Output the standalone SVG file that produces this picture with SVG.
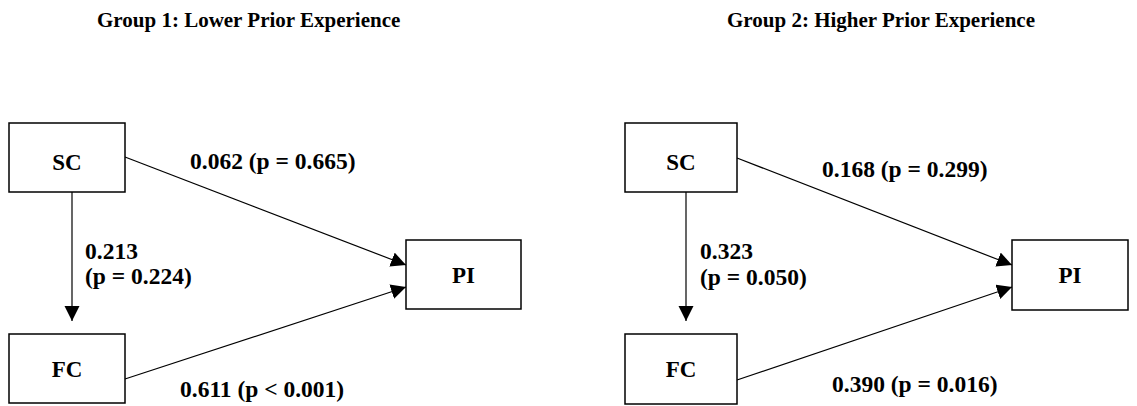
<svg xmlns="http://www.w3.org/2000/svg" width="1137" height="406" viewBox="0 0 1137 406">
  <style>
    text { font-family: "Liberation Serif", "Times New Roman", serif; font-weight: bold; fill: #000; }
    .title { font-size: 21px; }
    .node rect { fill: #fff; stroke: #000; stroke-width: 1.5; }
    .node text { font-size: 23px; text-anchor: middle; }
    .lbl { font-size: 23.5px; }
    .edge { stroke: #000; stroke-width: 1.2; fill: none; marker-end: url(#arrow); }
  </style>
  <defs>
    <marker id="arrow" markerUnits="userSpaceOnUse" markerWidth="16" markerHeight="16" refX="15" refY="7.5" orient="auto">
      <path d="M0,0 L15,7.5 L0,15 z" fill="#000"/>
    </marker>
  </defs>
  <rect width="1137" height="406" fill="#fff"/>

  <!-- group headings -->
  <text class="title" x="97" y="27">Group 1: Lower Prior Experience</text>
  <text class="title" x="727" y="27">Group 2: Higher Prior Experience</text>

  <!-- paths between constructs -->
  <g id="connectors">
    <line class="edge" x1="72" y1="192" x2="72" y2="321"/>
    <line class="edge" x1="125" y1="157" x2="406" y2="265"/>
    <line class="edge" x1="125" y1="379" x2="406" y2="287"/>
    <line class="edge" x1="686" y1="192" x2="686" y2="321"/>
    <line class="edge" x1="737" y1="158" x2="1012" y2="265"/>
    <line class="edge" x1="737" y1="380" x2="1012" y2="287"/>
  </g>

  <!-- path coefficients, group 1 -->
  <g id="labels-g1">
    <text class="lbl" x="190" y="169">0.062 (p = 0.665)</text>
    <text class="lbl" x="85" y="259">0.213</text>
    <text class="lbl" x="85" y="284">(p = 0.224)</text>
    <text class="lbl" x="180" y="397">0.611 (p &lt; 0.001)</text>
  </g>

  <!-- path coefficients, group 2 -->
  <g id="labels-g2">
    <text class="lbl" x="822" y="177">0.168 (p = 0.299)</text>
    <text class="lbl" x="700" y="259">0.323</text>
    <text class="lbl" x="700" y="285">(p = 0.050)</text>
    <text class="lbl" x="832" y="392">0.390 (p = 0.016)</text>
  </g>

  <!-- group 1 constructs -->
  <g id="g1-sc" class="node">
    <rect x="9" y="123" width="116" height="69"/>
    <text x="67" y="170">SC</text>
  </g>
  <g id="g1-fc" class="node">
    <rect x="9" y="334" width="116" height="69"/>
    <text x="67" y="377">FC</text>
  </g>
  <g id="g1-pi" class="node">
    <rect x="406" y="240" width="115" height="69"/>
    <text x="463.5" y="283">PI</text>
  </g>

  <!-- group 2 constructs -->
  <g id="g2-sc" class="node">
    <rect x="625" y="123" width="112" height="69"/>
    <text x="681" y="170">SC</text>
  </g>
  <g id="g2-fc" class="node">
    <rect x="625" y="334" width="112" height="70"/>
    <text x="681" y="377">FC</text>
  </g>
  <g id="g2-pi" class="node">
    <rect x="1012" y="240" width="116" height="70"/>
    <text x="1070" y="283">PI</text>
  </g>
</svg>
